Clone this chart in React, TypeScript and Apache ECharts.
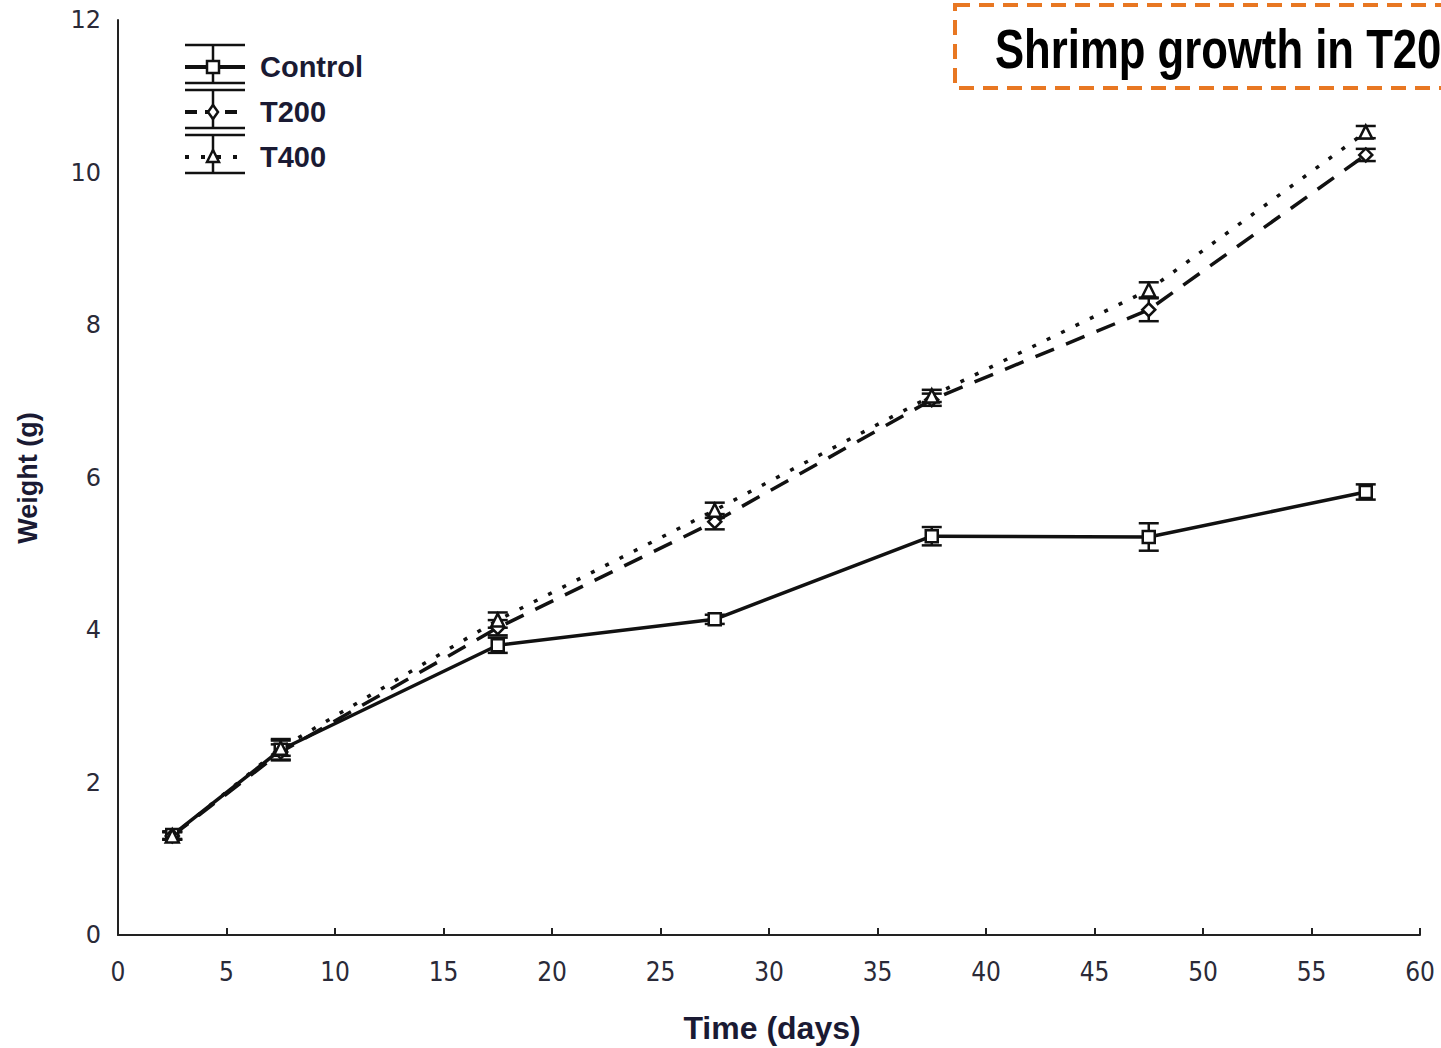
import React, { useEffect, useRef } from "react";
import * as echarts from "echarts";

const days = [2.5, 7.5, 17.5, 27.5, 37.5, 47.5, 57.5];
const control = [1.31, 2.43, 3.8, 4.14, 5.23, 5.22, 5.81];
const controlErr = [0.05, 0.14, 0.1, 0.06, 0.12, 0.18, 0.1];
const t200 = [1.3, 2.4, 4.03, 5.42, 7.02, 8.2, 10.23];
const t200Err = [0.05, 0.1, 0.1, 0.1, 0.08, 0.15, 0.08];
const t400 = [1.3, 2.45, 4.13, 5.57, 7.07, 8.46, 10.53];
const t400Err = [0.05, 0.1, 0.1, 0.1, 0.08, 0.1, 0.08];
const seriesNames = ["Control", "T200", "T400"];
const titleText = "Shrimp growth in T20";
const xName = "Time (days)";
const yName = "Weight (g)";

const BLACK = "#111";

function errData(vals: number[], errs: number[]) {
  return days.map((d, i) => [d, vals[i] - errs[i], vals[i] + errs[i]]);
}

function errSeries(name: string, vals: number[], errs: number[]) {
  return {
    type: "custom",
    name: name + " err",
    z: 5,
    data: errData(vals, errs),
    renderItem: (params: any, api: any) => {
      const x = api.value(0);
      const lo = api.coord([x, api.value(1)]);
      const hi = api.coord([x, api.value(2)]);
      const hw = 10;
      const style = { stroke: BLACK, lineWidth: 2.5 };
      return {
        type: "group",
        children: [
          { type: "line", shape: { x1: lo[0], y1: lo[1], x2: hi[0], y2: hi[1] }, style },
          { type: "line", shape: { x1: lo[0] - hw, y1: lo[1], x2: lo[0] + hw, y2: lo[1] }, style },
          { type: "line", shape: { x1: hi[0] - hw, y1: hi[1], x2: hi[0] + hw, y2: hi[1] }, style },
        ],
      };
    },
  };
}

function lineSeries(name: string, vals: number[], symbol: string, lineType: any) {
  return {
    type: "line",
    name,
    data: days.map((d, i) => [d, vals[i]]),
    symbol,
    symbolSize: symbol === "rect" ? 12 : 13,
    showAllSymbol: true,
    z: 6,
    lineStyle: { color: BLACK, width: 3.5, type: lineType },
    itemStyle: { color: "#fff", borderColor: BLACK, borderWidth: 2.5 },
  };
}

function legendEntry(i: number, name: string, lineType: number[] | null, marker: string) {
  const cy = 67 + i * 45;
  const top = cy - 22;
  const bot = cy + 16;
  const x1 = 185;
  const x2 = 245;
  const mx = 213;
  const st = { stroke: BLACK, lineWidth: 2.5 };
  const children: any[] = [
    { type: "line", shape: { x1, y1: top, x2, y2: top }, style: st },
    { type: "line", shape: { x1, y1: bot, x2, y2: bot }, style: st },
    { type: "line", shape: { x1: mx, y1: top, x2: mx, y2: bot }, style: st },
    {
      type: "line",
      shape: { x1, y1: cy, x2, y2: cy },
      style: { stroke: BLACK, lineWidth: 4, lineDash: lineType || undefined },
    },
  ];
  const ms = { fill: "#fff", stroke: BLACK, lineWidth: 2.5 };
  if (marker === "rect") {
    children.push({ type: "rect", shape: { x: mx - 6, y: cy - 6, width: 12, height: 12 }, style: ms, z: 10 });
  } else if (marker === "diamond") {
    children.push({
      type: "polygon",
      shape: { points: [[mx, cy - 7], [mx + 5, cy], [mx, cy + 7], [mx - 5, cy]] },
      style: ms,
      z: 10,
    });
  } else {
    children.push({
      type: "polygon",
      shape: { points: [[mx, cy - 7], [mx + 6, cy + 5], [mx - 6, cy + 5]] },
      style: ms,
      z: 10,
    });
  }
  children.push({
    type: "text",
    x: 260,
    y: cy,
    style: {
      text: name,
      fontFamily: "Liberation Sans, Arial, sans-serif",
      fontWeight: "bold",
      fontSize: 29,
      fill: "#1a1a33",
      verticalAlign: "middle",
      align: "left",
    },
  });
  return { type: "group", children };
}

export default function App() {
  const ref = useRef<HTMLDivElement>(null);
  useEffect(() => {
    if (!ref.current) return;
    const chart = echarts.init(ref.current, undefined, { renderer: "svg" });
    const option: any = {
      animation: false,
      backgroundColor: "#fff",
      grid: { left: 118, right: 21, top: 20, bottom: 113, containLabel: false },
      xAxis: {
        type: "value",
        min: 0,
        max: 60,
        interval: 5,
        splitLine: { show: false },
        axisLine: { show: true, onZero: false, lineStyle: { color: "#222", width: 2 } },
        axisTick: { show: true, inside: true, length: 7, lineStyle: { color: "#222", width: 2 } },
        axisLabel: {
          margin: 24,
          fontSize: 26,
          fontFamily: "Liberation Sans Narrow, DejaVu Sans Condensed, Liberation Sans, sans-serif",
          color: "#2a2a38",
        },
      },
      yAxis: {
        type: "value",
        min: 0,
        max: 12,
        interval: 2,
        splitLine: { show: false },
        axisLine: { show: true, lineStyle: { color: "#222", width: 2 } },
        axisTick: { show: false },
        axisLabel: {
          margin: 17,
          fontSize: 24,
          fontFamily: "DejaVu Sans, sans-serif",
          color: "#2a2a38",
        },
      },
      series: [
        lineSeries(seriesNames[0], control, "rect", "solid"),
        lineSeries(seriesNames[1], t200, "diamond", [20, 13]),
        lineSeries(seriesNames[2], t400, "triangle", [4, 12]),
        errSeries(seriesNames[0], control, controlErr),
        errSeries(seriesNames[1], t200, t200Err),
        errSeries(seriesNames[2], t400, t400Err),
      ],
      graphic: [
        legendEntry(0, seriesNames[0], null, "rect"),
        legendEntry(1, seriesNames[1], [12, 8], "diamond"),
        legendEntry(2, seriesNames[2], [4, 12], "triangle"),
        {
          type: "rect",
          shape: { x: 955, y: 5, width: 520, height: 83 },
          style: { fill: "none", stroke: "#E87722", lineWidth: 4, lineDash: [15, 9] },
        },
        {
          type: "group",
          x: 995,
          y: 49,
          scaleX: 0.78,
          children: [
            {
              type: "text",
              x: 0,
              y: 0,
              style: {
                text: titleText,
                fontFamily: "Liberation Sans, Arial, sans-serif",
                fontWeight: "bold",
                fontSize: 56,
                fill: "#000",
                verticalAlign: "middle",
                align: "left",
              },
            },
          ],
        },
        {
          type: "text",
          x: 772,
          y: 1028,
          style: {
            text: xName,
            fontFamily: "Liberation Sans, Arial, sans-serif",
            fontWeight: "bold",
            fontSize: 32,
            fill: "#1a1a33",
            align: "center",
            verticalAlign: "middle",
          },
        },
        {
          type: "text",
          x: 28,
          y: 478,
          rotation: Math.PI / 2,
          style: {
            text: yName,
            fontFamily: "Liberation Sans, Arial, sans-serif",
            fontWeight: "bold",
            fontSize: 27,
            fill: "#1a1a33",
            align: "center",
            verticalAlign: "middle",
          },
        },
      ],
    };
    chart.setOption(option);
    return () => chart.dispose();
  }, []);
  return (
    <div
      ref={ref}
      style={{ position: "fixed", left: 0, top: 0, width: 1441, height: 1048, background: "#fff" }}
    />
  );
}
